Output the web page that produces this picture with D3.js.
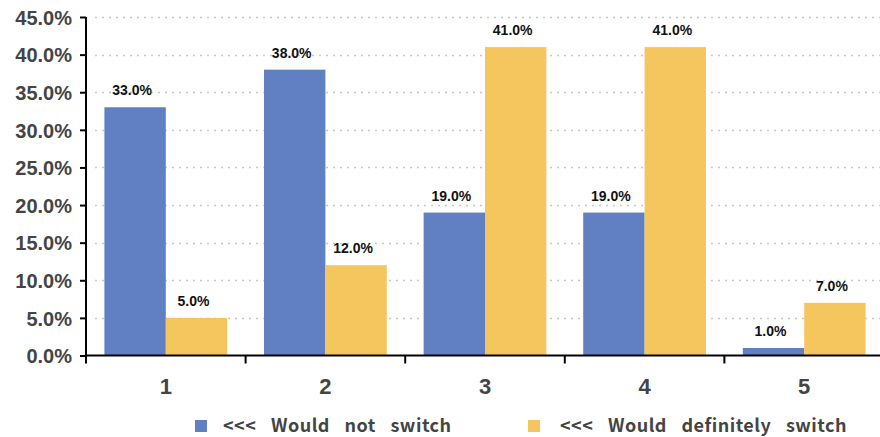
<!DOCTYPE html>
<html><head><meta charset="utf-8">
<script src="https://cdn.jsdelivr.net/npm/d3@7"></script>
<style>
html,body{margin:0;padding:0;background:#fff;}
svg{display:block;}
</style>
</head><body>
<svg id="chart" width="880" height="437"></svg>
<script>
const categories = ["1","2","3","4","5"];
const seriesNames = ["<<< Would not switch", "<<< Would definitely switch"];
const wouldNotSwitch = [33, 38, 19, 19, 1];
const wouldDefinitelySwitch = [5, 12, 41, 41, 7];
const yTicks = [0, 5, 10, 15, 20, 25, 30, 35, 40, 45];
const colors = ["#617FC3", "#F6C65E"];

const svg = d3.select("#chart");
const x0 = 86, x1 = 884, yBase = 355.5, yTop = 17;

const x = d3.scaleBand().domain(categories).range([x0, x1]).paddingInner(0).paddingOuter(0);
const inner = d3.scaleBand().domain([0,1]).range([0, x.bandwidth()]).paddingInner(0).paddingOuter(0.3);
const y = d3.scaleLinear().domain([0, 45]).range([yBase, yTop]);

// gridlines
svg.append("g").selectAll("line").data(yTicks.filter(d => d > 0)).join("line")
  .attr("x1", 95).attr("x2", 880)
  .attr("y1", d => Math.round(y(d)) + 0.5).attr("y2", d => Math.round(y(d)) + 0.5)
  .attr("stroke", "#c8c8c8").attr("stroke-width", 1.3)
  .attr("stroke-dasharray", "2,5");

const series = [wouldNotSwitch, wouldDefinitelySwitch];
const data = [];
categories.forEach((c, i) => series.forEach((s, k) => data.push({c, k, v: s[i]})));

svg.append("g").selectAll("rect").data(data).join("rect")
  .attr("x", d => x(d.c) + inner(d.k))
  .attr("width", inner.bandwidth())
  .attr("y", d => y(d.v))
  .attr("height", d => yBase - y(d.v))
  .attr("fill", d => colors[d.k]);

// data labels
svg.append("g").selectAll("text").data(data).join("text")
  .attr("x", d => x(d.c) + inner(d.k) + inner.bandwidth()/2 - 3)
  .attr("y", d => y(d.v) - 12)
  .attr("text-anchor", "middle")
  .attr("font-family", "Liberation Sans, Arial, sans-serif")
  .attr("font-weight", "bold")
  .attr("font-size", 14)
  .attr("fill", "#111")
  .text(d => d.v.toFixed(1) + "%");

// y axis
const yAxis = svg.append("g").attr("transform", `translate(${x0},0)`)
  .call(d3.axisLeft(y).tickValues(yTicks).tickFormat(d => d.toFixed(1) + "%").tickSize(6).tickPadding(8));
yAxis.select(".domain").attr("stroke", "#000").attr("stroke-width", 2).attr("d", `M0,${yTop}V${yBase}`);
yAxis.selectAll(".tick line").attr("stroke", "#000").attr("stroke-width", 2);
yAxis.selectAll(".tick text").attr("font-family", "Liberation Sans, Arial, sans-serif")
  .attr("font-weight", "bold").attr("font-size", 20).attr("fill", "#444").attr("dy", "0.36em");

// x axis
const xTickPos = categories.map(c => x(c));
const xAxis = svg.append("g").attr("transform", `translate(0,${yBase})`);
xAxis.append("line").attr("x1", x0 - 1).attr("x2", 880).attr("y1", 0).attr("y2", 0)
  .attr("stroke", "#000").attr("stroke-width", 2);
xAxis.selectAll("line.tk").data(xTickPos).join("line").attr("class", "tk")
  .attr("x1", d => d).attr("x2", d => d).attr("y1", 0).attr("y2", 8)
  .attr("stroke", "#000").attr("stroke-width", 2);
xAxis.selectAll("text").data(categories).join("text")
  .attr("x", d => x(d) + x.bandwidth()/2)
  .attr("y", 38)
  .attr("text-anchor", "middle")
  .attr("font-family", "Liberation Sans, Arial, sans-serif")
  .attr("font-weight", "bold").attr("font-size", 22).attr("fill", "#444")
  .text(d => d);

// legend
const legendX = [195, 528];
const lg = svg.append("g").selectAll("g").data(seriesNames).join("g")
  .attr("transform", (d, i) => `translate(${legendX[i]},420)`);
lg.append("rect").attr("width", 12).attr("height", 12).attr("fill", (d, i) => colors[i]);
lg.append("text").attr("x", (d, i) => i === 0 ? 28 : 32).attr("y", 12)
  .attr("font-family", "Noto Sans CJK JP, sans-serif")
  .attr("font-weight", "bold").attr("font-size", 18).attr("fill", "#444")
  .attr("letter-spacing", 0.5).attr("word-spacing", 10)
  .text(d => d);
</script>
</body></html>
